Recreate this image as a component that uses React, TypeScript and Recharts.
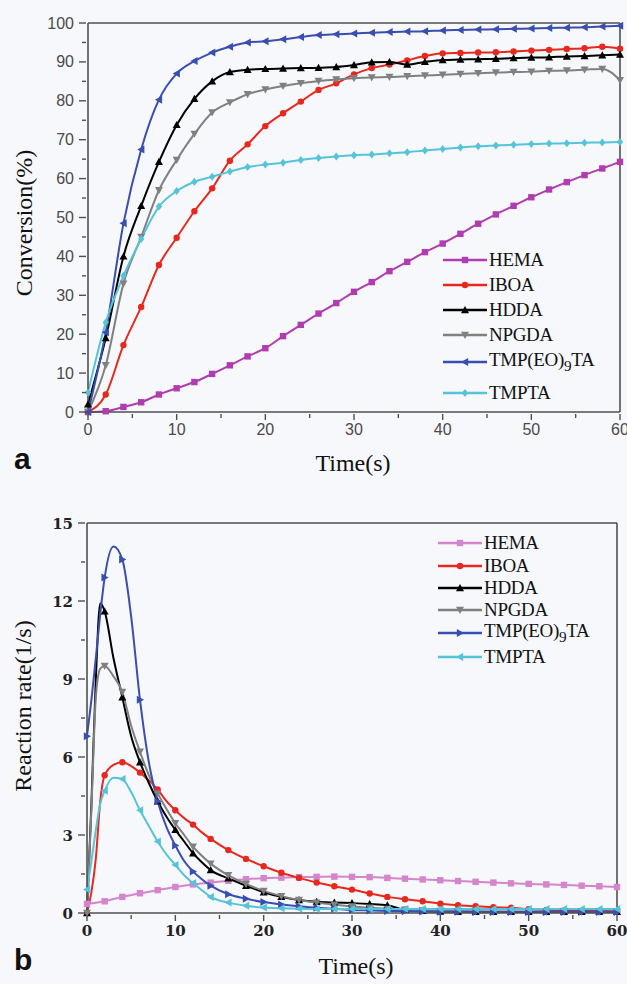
import React from "react";
import { LineChart, Line, XAxis, YAxis, ReferenceLine } from "recharts";

// ---- panel a: conversion (%) vs time (s)
const convTime = [0, 2, 4, 6, 8, 10, 12, 14, 16, 18, 20, 22, 24, 26, 28, 30, 32, 34, 36, 38, 40, 42, 44, 46, 48, 50, 52, 54, 56, 58, 60];
const convHEMA = [0, 0.2, 1.3, 2.5, 4.5, 6.1, 7.7, 9.8, 12.0, 14.3, 16.4, 19.5, 22.4, 25.3, 28.0, 30.9, 33.4, 36.2, 38.6, 41.1, 43.3, 45.8, 48.4, 50.8, 53.0, 55.2, 57.2, 59.1, 60.9, 62.6, 64.3];
const convIBOA = [0, 4.5, 17.2, 27.0, 37.8, 44.8, 51.6, 57.5, 64.6, 68.8, 73.5, 76.8, 79.8, 82.8, 84.5, 86.8, 88.4, 89.3, 90.4, 91.5, 92.2, 92.3, 92.4, 92.5, 92.7, 92.9, 93.1, 93.3, 93.5, 93.9, 93.4];
const convHDDA = [2, 19, 40, 53, 64.3, 73.8, 80.5, 85, 87.4, 88, 88.2, 88.3, 88.4, 88.5, 88.7, 89.2, 89.9, 90.0, 89.3, 90.0, 90.5, 90.6, 90.7, 90.8, 91.0, 91.1, 91.2, 91.4, 91.5, 91.7, 91.9];
const convNPGDA = [0, 12, 33, 45, 57, 64.8, 71.5, 77, 79.6, 81.7, 82.9, 83.8, 84.5, 85.1, 85.5, 85.8, 86.0, 86.1, 86.3, 86.5, 86.7, 86.9, 87.1, 87.3, 87.4, 87.5, 87.7, 87.8, 88.0, 88.2, 85.3];
const convTMP = [0, 20.5, 48.5, 67.5, 80.3, 87, 90.2, 92.4, 93.9, 95, 95.3, 95.8, 96.4, 96.9, 97.1, 97.3, 97.5, 97.7, 97.8, 97.9, 98.1, 98.2, 98.3, 98.4, 98.5, 98.6, 98.7, 98.8, 98.9, 99.1, 99.3];
const convTMPTA = [5, 23, 35, 44.5, 52.8, 56.8, 59.2, 60.5, 61.8, 63, 63.6, 64.1, 64.8, 65.3, 65.7, 66.0, 66.2, 66.5, 66.8, 67.2, 67.6, 68.0, 68.3, 68.5, 68.7, 68.9, 69.0, 69.1, 69.2, 69.3, 69.4];

// ---- panel b: reaction rate (1/s) vs time (s)
const rateTime = [0, 0.5, 1, 1.5, 2, 3, 4, 5, 6, 7, 8, 9, 10, 11, 12, 13, 14, 16, 18, 20, 22, 24, 26, 28, 30, 32, 34, 36, 38, 40, 42, 44, 46, 48, 50, 52, 54, 56, 58, 60];
const rateHEMA = [0.35, null, null, null, 0.45, null, 0.62, null, 0.76, null, 0.88, null, 1.0, null, 1.1, null, 1.17, 1.24, 1.3, 1.34, 1.36, 1.38, 1.39, 1.4, 1.39, 1.38, 1.35, 1.32, 1.29, 1.26, 1.23, 1.2, 1.17, 1.14, 1.12, 1.1, 1.08, 1.05, 1.03, 1.0];
const rateIBOA = [0, 0.8, 2.1, 4.3, 5.3, 5.7, 5.8, 5.65, 5.4, 5.1, 4.75, 4.3, 3.95, 3.65, 3.4, 3.1, 2.85, 2.42, 2.08, 1.8, 1.55, 1.35, 1.17, 1.03, 0.9, 0.75, 0.62, 0.53, 0.45, 0.36, 0.3, 0.26, 0.22, 0.2, 0.15, 0.12, 0.1, 0.08, 0.07, 0.06];
const rateHDDA = [0, 4.2, 9.0, 11.9, 11.6, 9.8, 8.3, 6.8, 5.8, 5.0, 4.3, 3.7, 3.2, 2.75, 2.3, 1.95, 1.65, 1.33, 1.05, 0.8, 0.62, 0.5, 0.43, 0.4, 0.38, 0.35, 0.3, 0.12, 0.08, 0.06, 0.05, 0.05, 0.05, 0.05, 0.05, 0.05, 0.05, 0.05, 0.05, 0.05];
const rateNPGDA = [0, 4.0, 8.3, 9.4, 9.5, 9.1, 8.5, 7.2, 6.2, 5.3, 4.6, 4.0, 3.45, 3.0, 2.55, 2.2, 1.9, 1.45, 1.12, 0.85, 0.65, 0.5, 0.4, 0.32, 0.25, 0.2, 0.16, 0.13, 0.1, 0.08, 0.07, 0.06, 0.05, 0.05, 0.05, 0.05, 0.05, 0.05, 0.05, 0.05];
const rateTMP = [6.8, 8.2, 9.8, 11.5, 12.9, 14.1, 13.6, 11.4, 8.2, 5.8, 4.3, 3.3, 2.6, 2.0, 1.6, 1.3, 1.05, 0.72, 0.55, 0.42, 0.33, 0.26, 0.2, 0.16, 0.12, 0.1, 0.08, 0.07, 0.06, 0.05, 0.05, 0.04, 0.04, 0.04, 0.04, 0.04, 0.04, 0.04, 0.04, 0.04];
const rateTMPTA = [0.9, 2.0, 3.2, 4.2, 4.7, 5.2, 5.15, 4.65, 3.95, 3.35, 2.75, 2.25, 1.85, 1.45, 1.15, 0.88, 0.62, 0.4, 0.28, 0.21, 0.18, 0.16, 0.15, 0.15, 0.15, 0.15, 0.15, 0.15, 0.15, 0.15, 0.15, 0.15, 0.15, 0.15, 0.15, 0.15, 0.15, 0.15, 0.15, 0.15];

const timeTicks = [0, 5, 10, 15, 20, 25, 30, 35, 40, 45, 50, 55, 60];
const convTicks = [0, 5, 10, 15, 20, 25, 30, 35, 40, 45, 50, 55, 60, 65, 70, 75, 80, 85, 90, 95, 100];
const rateTicks = [0, 1.5, 3, 4.5, 6, 7.5, 9, 10.5, 12, 13.5, 15];

type Shape = "square" | "circle" | "up" | "down" | "left" | "right" | "diamond";
type Series = { key: string; color: string; shape: Shape; values: (number | null)[] };

const convSeries: Series[] = [
  { key: "HEMA", color: "#b03cb0", shape: "square", values: convHEMA },
  { key: "IBOA", color: "#e8281e", shape: "circle", values: convIBOA },
  { key: "HDDA", color: "#000000", shape: "up", values: convHDDA },
  { key: "NPGDA", color: "#808080", shape: "down", values: convNPGDA },
  { key: "TMP", color: "#3a4db0", shape: "left", values: convTMP },
  { key: "TMPTA", color: "#55c4d8", shape: "diamond", values: convTMPTA },
];

const rateSeries: Series[] = [
  { key: "HEMA", color: "#d485cc", shape: "square", values: rateHEMA },
  { key: "IBOA", color: "#e8281e", shape: "circle", values: rateIBOA },
  { key: "HDDA", color: "#000000", shape: "up", values: rateHDDA },
  { key: "NPGDA", color: "#808080", shape: "down", values: rateNPGDA },
  { key: "TMP", color: "#3a4db0", shape: "right", values: rateTMP },
  { key: "TMPTA", color: "#55c4d8", shape: "left", values: rateTMPTA },
];

const convRows = convTime.map((t, i) => {
  const row: Record<string, number | null> = { t };
  convSeries.forEach((s) => (row[s.key] = s.values[i]));
  return row;
});
const rateRows = rateTime.map((t, i) => {
  const row: Record<string, number | null> = { t };
  rateSeries.forEach((s) => (row[s.key] = s.values[i]));
  return row;
});

const AXIS = "#505050";
const SERIF = "'Liberation Serif', 'Times New Roman', serif";

function Marker({ shape, x, y, color, s = 4 }: { shape: Shape; x: number; y: number; color: string; s?: number }) {
  switch (shape) {
    case "square":
      return <rect x={x - s * 0.8} y={y - s * 0.8} width={s * 1.6} height={s * 1.6} fill={color} />;
    case "circle":
      return <circle cx={x} cy={y} r={s * 0.8} fill={color} />;
    case "up":
      return <polygon points={`${x},${y - s} ${x - s},${y + s * 0.8} ${x + s},${y + s * 0.8}`} fill={color} />;
    case "down":
      return <polygon points={`${x},${y + s} ${x - s},${y - s * 0.8} ${x + s},${y - s * 0.8}`} fill={color} />;
    case "left":
      return <polygon points={`${x - s},${y} ${x + s * 0.8},${y - s} ${x + s * 0.8},${y + s}`} fill={color} />;
    case "right":
      return <polygon points={`${x + s},${y} ${x - s * 0.8},${y - s} ${x - s * 0.8},${y + s}`} fill={color} />;
    default:
      return <polygon points={`${x},${y - s} ${x + s * 0.8},${y} ${x},${y + s} ${x - s * 0.8},${y}`} fill={color} />;
  }
}

const dotFor = (s: Series) => (p: any) => {
  const { cx, cy, payload, index } = p;
  const v = payload ? payload[s.key] : null;
  if (cx == null || cy == null || v == null || payload.t % 2 !== 0) return <g key={`m-${s.key}-${index}`} />;
  return (
    <g key={`m-${s.key}-${index}`}>
      <Marker shape={s.shape} x={cx} y={cy} color={s.color} />
    </g>
  );
};

function makeXTick(font: React.CSSProperties) {
  return (p: any) => {
    const { x, y, payload } = p;
    const major = payload.value % 10 === 0;
    return (
      <g>
        <line x1={x} x2={x} y1={y} y2={y + (major ? 6 : 4)} stroke={AXIS} strokeWidth={1.4} />
        {major && (
          <text x={x} y={y + 21} textAnchor="middle" style={font}>
            {payload.value}
          </text>
        )}
      </g>
    );
  };
}

function makeYTick(font: React.CSSProperties, step: number) {
  return (p: any) => {
    const { x, y, payload } = p;
    const major = Math.abs(payload.value / step - Math.round(payload.value / step)) < 1e-6;
    return (
      <g>
        <line x1={x} x2={x - (major ? 7 : 4)} y1={y} y2={y} stroke={AXIS} strokeWidth={1.4} />
        {major && (
          <text x={x - 12} y={y + 5.5} textAnchor="end" style={font}>
            {payload.value}
          </text>
        )}
      </g>
    );
  };
}

const tickFontA: React.CSSProperties = { fontFamily: "'Liberation Sans', Arial, sans-serif", fontSize: 16, fill: "#4a4a4a" };
const tickFontB: React.CSSProperties = { fontFamily: "'DejaVu Serif', serif", fontSize: 15, fontWeight: 700, fill: "#222" };

function LegendBox({ series, left, rows, fontSize }: { series: Series[]; left: number; rows: number[]; fontSize: number }) {
  return (
    <div style={{ position: "absolute", left, top: 0 }}>
      {series.map((s, i) => (
        <div key={s.key} style={{ position: "absolute", left: 0, top: rows[i] - 12, height: 24, display: "flex", alignItems: "center", whiteSpace: "nowrap" }}>
          <svg width={46} height={24} style={{ display: "block" }}>
            <line x1={0} x2={44} y1={12} y2={12} stroke={s.color} strokeWidth={2.5} />
            <Marker shape={s.shape} x={22} y={12} color={s.color} />
          </svg>
          <span style={{ fontFamily: SERIF, fontSize, color: "#111", letterSpacing: -0.3 }}>
            {s.key === "TMP" ? (
              <>
                TMP(EO)<sub style={{ fontSize: fontSize * 0.8, verticalAlign: "-0.3em" }}>9</sub>TA
              </>
            ) : (
              s.key
            )}
          </span>
        </div>
      ))}
    </div>
  );
}

function Panel({
  rows,
  series,
  yTicks,
  yMax,
  yStep,
  tickFont,
  leftW,
  right,
  height,
}: {
  rows: Record<string, number | null>[];
  series: Series[];
  yTicks: number[];
  yMax: number;
  yStep: number;
  tickFont: React.CSSProperties;
  leftW: number;
  right: number;
  height: number;
}) {
  return (
    <LineChart width={627} height={height} data={rows} margin={{ top: 23, right, left: 0, bottom: 28 }}>
      <XAxis
        dataKey="t"
        type="number"
        domain={[0, 60]}
        ticks={timeTicks}
        interval={0}
        tickSize={0}
        tickLine={false}
        height={40}
        axisLine={{ stroke: AXIS, strokeWidth: 1.6 }}
        tick={makeXTick(tickFont)}
      />
      <YAxis
        type="number"
        domain={[0, yMax]}
        ticks={yTicks}
        interval={0}
        tickSize={0}
        tickLine={false}
        width={leftW}
        axisLine={{ stroke: AXIS, strokeWidth: 1.6 }}
        tick={makeYTick(tickFont, yStep)}
      />
      <ReferenceLine y={yMax} stroke={AXIS} strokeWidth={1.6} />
      <ReferenceLine x={60} stroke={AXIS} strokeWidth={1.6} />
      {series.map((s) => (
        <Line
          key={s.key}
          type="monotone"
          dataKey={s.key}
          stroke={s.color}
          strokeWidth={2}
          connectNulls
          dot={dotFor(s)}
          activeDot={false}
          isAnimationActive={false}
        />
      ))}
    </LineChart>
  );
}

export default function App() {
  return (
    <div style={{ position: "relative", width: 627, height: 984, background: "#f6f8fb", overflow: "hidden" }}>
      <style>{"body{margin:0}"}</style>

      <div style={{ position: "absolute", left: 0, top: 0 }}>
        <Panel rows={convRows} series={convSeries} yTicks={convTicks} yMax={100} yStep={10} tickFont={tickFontA} leftW={88} right={7} height={480} />
      </div>
      <LegendBox series={convSeries} left={443} rows={[260, 285, 310, 335, 362, 393]} fontSize={19} />
      <div style={{ position: "absolute", left: 24, top: 223, transform: "translate(-50%,-50%) rotate(-90deg)", fontFamily: SERIF, fontSize: 24, whiteSpace: "nowrap", color: "#111" }}>
        Conversion(%)
      </div>
      <div style={{ position: "absolute", left: 353, top: 463, transform: "translate(-50%,-50%)", fontFamily: SERIF, fontSize: 24, whiteSpace: "nowrap", color: "#111" }}>
        Time(s)
      </div>
      <div style={{ position: "absolute", left: 14, top: 442, fontFamily: "'Liberation Sans', Arial, sans-serif", fontWeight: 700, fontSize: 30, color: "#111" }}>a</div>

      <div style={{ position: "absolute", left: 0, top: 500 }}>
        <Panel rows={rateRows} series={rateSeries} yTicks={rateTicks} yMax={15} yStep={3} tickFont={tickFontB} leftW={87} right={10} height={481} />
      </div>
      <LegendBox series={rateSeries} left={438} rows={[543, 566, 588, 610, 633, 657]} fontSize={19} />
      <div style={{ position: "absolute", left: 23, top: 706, transform: "translate(-50%,-50%) rotate(-90deg)", fontFamily: SERIF, fontSize: 24, whiteSpace: "nowrap", color: "#111" }}>
        Reaction rate(1/s)
      </div>
      <div style={{ position: "absolute", left: 356, top: 966, transform: "translate(-50%,-50%)", fontFamily: SERIF, fontSize: 24, whiteSpace: "nowrap", color: "#111" }}>
        Time(s)
      </div>
      <div style={{ position: "absolute", left: 14, top: 943, fontFamily: "'Liberation Sans', Arial, sans-serif", fontWeight: 700, fontSize: 30, color: "#111" }}>b</div>
    </div>
  );
}
